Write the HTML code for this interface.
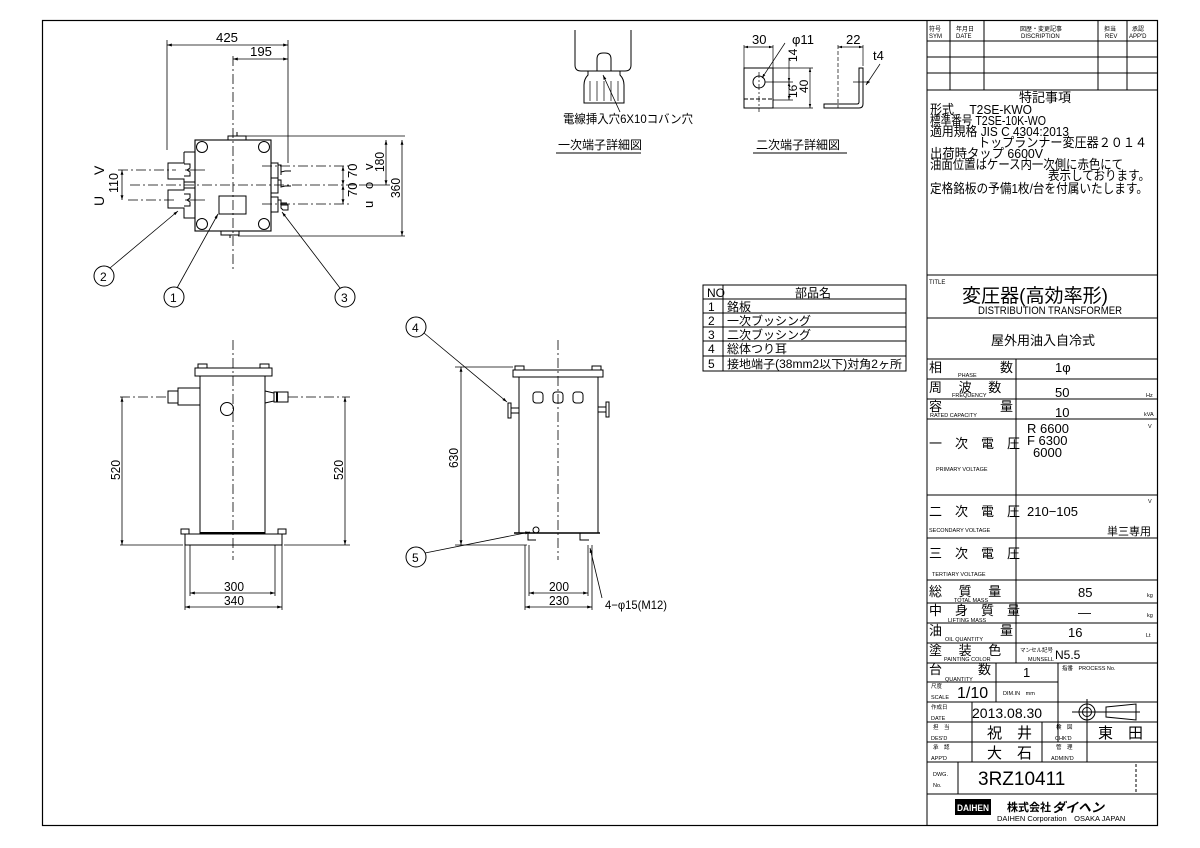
<!DOCTYPE html>
<html><head><meta charset="utf-8"><style>
html,body{margin:0;padding:0;background:#fff;}
svg{display:block;}
text{font-family:"Liberation Sans","Noto Sans CJK JP",sans-serif;fill:#000;}
.j{font-family:"Liberation Sans","Noto Sans CJK JP",sans-serif;}
</style></head><body>
<svg width="1200" height="848" viewBox="0 0 1200 848" xmlns="http://www.w3.org/2000/svg">
<defs>
<marker id="a" viewBox="0 0 10 10" refX="10" refY="5" markerWidth="6" markerHeight="6" orient="auto-start-reverse"><path d="M0,2L10,5L0,8z" fill="#000"/></marker>
</defs>
<g fill="none" stroke="#000" stroke-width="1">
<rect x="42.5" y="20.5" width="1115" height="805" stroke-width="1.2"/>
<line x1="927" y1="20" x2="927" y2="825"/>
<line x1="927" y1="41" x2="1158" y2="41"/>
<line x1="927" y1="57" x2="1158" y2="57"/>
<line x1="927" y1="73" x2="1158" y2="73"/>
<line x1="927" y1="90" x2="1158" y2="90"/>
<line x1="950" y1="20" x2="950" y2="90"/>
<line x1="984" y1="20" x2="984" y2="90"/>
<line x1="1098" y1="20" x2="1098" y2="90"/>
<line x1="1127" y1="20" x2="1127" y2="90"/>
<line x1="927" y1="275" x2="1158" y2="275"/>
<line x1="927" y1="318" x2="1158" y2="318"/>
<line x1="927" y1="359" x2="1158" y2="359"/>
<line x1="927" y1="379" x2="1158" y2="379"/>
<line x1="927" y1="399" x2="1158" y2="399"/>
<line x1="927" y1="419" x2="1158" y2="419"/>
<line x1="927" y1="495" x2="1158" y2="495"/>
<line x1="927" y1="538" x2="1158" y2="538"/>
<line x1="927" y1="580" x2="1158" y2="580"/>
<line x1="927" y1="603" x2="1158" y2="603"/>
<line x1="927" y1="623" x2="1158" y2="623"/>
<line x1="927" y1="643" x2="1158" y2="643"/>
<line x1="927" y1="663" x2="1158" y2="663"/>
<line x1="1016" y1="359" x2="1016" y2="663"/>
<line x1="927" y1="682" x2="1058" y2="682"/>
<line x1="927" y1="702" x2="1158" y2="702"/>
<line x1="927" y1="722" x2="1158" y2="722"/>
<line x1="927" y1="742" x2="1158" y2="742"/>
<line x1="927" y1="762" x2="1158" y2="762"/>
<line x1="927" y1="794" x2="1158" y2="794"/>
<line x1="996" y1="663" x2="996" y2="702"/>
<line x1="1058" y1="663" x2="1058" y2="742"/>
<line x1="972" y1="702" x2="972" y2="762"/>
<line x1="1042" y1="722" x2="1042" y2="762"/>
<line x1="1087" y1="722" x2="1087" y2="762"/>
<line x1="958" y1="762" x2="958" y2="794"/>
<line x1="1136" y1="764" x2="1136" y2="792" stroke-dasharray="3,2"/>
<circle cx="1087" cy="712" r="8"/><circle cx="1087" cy="712" r="4.5"/>
<line x1="1072" y1="712" x2="1102" y2="712"/><line x1="1087" y1="699" x2="1087" y2="725"/>
<path d="M1106,707L1136,704L1136,720L1106,717Z"/>
<line x1="1102" y1="712" x2="1140" y2="712"/>

<g stroke-width="0.8">
<line x1="167" y1="45" x2="288" y2="45" marker-start="url(#a)" marker-end="url(#a)"/>
<line x1="233" y1="59" x2="288" y2="59" marker-start="url(#a)" marker-end="url(#a)"/>
<line x1="167" y1="40" x2="167" y2="150"/>
<line x1="288" y1="40" x2="288" y2="163"/>
<line x1="233" y1="56" x2="233" y2="270" stroke-dasharray="10,3,2,3"/>
</g>
<rect x="195" y="140" width="76" height="91" stroke-width="1.1"/>
<circle cx="202" cy="147" r="5.5"/><circle cx="264" cy="147" r="5.5"/>
<circle cx="202" cy="224" r="5.5"/><circle cx="264" cy="224" r="5.5"/>
<rect x="219" y="196" width="27" height="18"/>
<rect x="228" y="136" width="18" height="4"/><line x1="237" y1="132" x2="237" y2="136"/>
<rect x="221" y="231" width="18" height="4"/><line x1="230" y1="235" x2="230" y2="238"/>
<path d="M184,152v11h-16v16h16v9h11"/>
<path d="M184,152h11"/>
<path d="M184,164h6v4l-3,2 3,2v4h-6"/>
<path d="M184,182h11M184,182v8h-16v18h16v10h11"/>
<path d="M184,194h6v4l-3,2 3,2v4h-6"/>
<path d="M271,163h7v15h-7"/><path d="M278,165h3v7l4,-1h6" /><path d="M281,167v8"/>
<path d="M271,178h7v15h-7"/><path d="M278,180h3v7l4,-1h6"/>
<path d="M271,197h7v15h-7"/><path d="M278,200h3v8l2,2h5v-5h-7"/><path d="M281,203h6"/>
<g stroke-width="0.8">
<line x1="118" y1="170" x2="176" y2="170" stroke-dasharray="10,3,2,3"/>
<line x1="128" y1="200" x2="176" y2="200" stroke-dasharray="10,3,2,3"/>
<line x1="185" y1="170" x2="205" y2="170"/>
<line x1="185" y1="200" x2="205" y2="200"/>
<line x1="130" y1="185" x2="360" y2="185" stroke-dasharray="10,3,2,3"/>
<line x1="122" y1="170" x2="122" y2="200" marker-start="url(#a)" marker-end="url(#a)"/>
<line x1="262" y1="166" x2="352" y2="166" stroke-dasharray="10,3,2,3"/>
<line x1="262" y1="204" x2="352" y2="204" stroke-dasharray="10,3,2,3"/>
<line x1="343" y1="166" x2="343" y2="185" marker-start="url(#a)" marker-end="url(#a)"/>
<line x1="343" y1="185" x2="343" y2="204" marker-start="url(#a)" marker-end="url(#a)"/>
<line x1="246" y1="136" x2="405" y2="136"/>
<line x1="238" y1="236" x2="405" y2="236"/>
<line x1="386" y1="140" x2="386" y2="185" marker-start="url(#a)" marker-end="url(#a)"/>
<line x1="360" y1="185" x2="390" y2="185"/>
<line x1="402" y1="140" x2="402" y2="236" marker-start="url(#a)" marker-end="url(#a)"/>
<line x1="110" y1="268" x2="178" y2="211" marker-end="url(#a)"/>
<line x1="177" y1="288" x2="218" y2="214" marker-end="url(#a)"/>
<line x1="340" y1="288" x2="282" y2="212" marker-end="url(#a)"/>
</g>
<circle cx="104" cy="276" r="10"/><circle cx="174" cy="297" r="10"/><circle cx="345" cy="297" r="10"/>
<circle cx="416" cy="327" r="10"/><circle cx="416" cy="557" r="10"/>

<g stroke-width="0.8">
<line x1="233" y1="340" x2="233" y2="560" stroke-dasharray="10,3,2,3"/>
<line x1="120" y1="397" x2="168" y2="397" stroke-dasharray="10,3,2,3"/>
<line x1="288" y1="397" x2="350" y2="397" stroke-dasharray="10,3,2,3"/>
<line x1="120" y1="545" x2="183" y2="545"/><line x1="284" y1="545" x2="350" y2="545"/>
<line x1="122" y1="397" x2="122" y2="545" marker-start="url(#a)" marker-end="url(#a)"/>
<line x1="345" y1="397" x2="345" y2="545" marker-start="url(#a)" marker-end="url(#a)"/>
<line x1="190" y1="545" x2="190" y2="596"/><line x1="275" y1="545" x2="275" y2="596"/>
<line x1="185" y1="545" x2="185" y2="610"/><line x1="282" y1="545" x2="282" y2="610"/>
<line x1="190" y1="593" x2="275" y2="593" marker-start="url(#a)" marker-end="url(#a)"/>
<line x1="185" y1="607" x2="282" y2="607" marker-start="url(#a)" marker-end="url(#a)"/>
</g>
<rect x="195" y="368" width="77" height="8"/>
<rect x="198" y="364" width="9" height="4"/><rect x="260" y="364" width="9" height="4"/>
<rect x="200" y="376" width="65" height="157"/>
<line x1="200" y1="533" x2="265" y2="533" stroke-width="2"/>
<rect x="185" y="534" width="97" height="11"/>
<rect x="181" y="529" width="8" height="5"/><rect x="278" y="529" width="8" height="5"/>
<circle cx="227" cy="409" r="6.5"/>
<rect x="168" y="391" width="10" height="12"/><rect x="178" y="388" width="22" height="17"/>
<path d="M265,391l9,2v8l-9,2"/><rect x="274" y="392" width="14" height="10"/><line x1="277" y1="392" x2="277" y2="402" stroke-width="2"/>

<g stroke-width="0.8">
<line x1="558" y1="340" x2="558" y2="560" stroke-dasharray="10,3,2,3"/>
<line x1="455" y1="367" x2="513" y2="367"/>
<line x1="455" y1="545" x2="527" y2="545"/>
<line x1="461" y1="367" x2="461" y2="545" marker-start="url(#a)" marker-end="url(#a)"/>
<line x1="529" y1="545" x2="529" y2="596"/><line x1="588" y1="545" x2="588" y2="596"/>
<line x1="525" y1="545" x2="525" y2="610"/><line x1="592" y1="545" x2="592" y2="610"/>
<line x1="529" y1="593" x2="588" y2="593" marker-start="url(#a)" marker-end="url(#a)"/>
<line x1="525" y1="607" x2="592" y2="607" marker-start="url(#a)" marker-end="url(#a)"/>
<line x1="424" y1="333" x2="507" y2="402" marker-end="url(#a)"/>
<line x1="425" y1="553" x2="530" y2="532" marker-end="url(#a)"/>
<line x1="602" y1="598" x2="590" y2="548" marker-end="url(#a)"/>
</g>
<rect x="513" y="370" width="90" height="7"/>
<rect x="515" y="366" width="9" height="4"/><rect x="592" y="366" width="9" height="4"/>
<rect x="519" y="377" width="79" height="156"/>
<line x1="514" y1="533" x2="600" y2="533" stroke-width="1.4"/>
<rect x="533" y="392" width="10" height="11" rx="3"/><rect x="553" y="392" width="10" height="11" rx="3"/><rect x="573" y="392" width="10" height="11" rx="3"/>
<rect x="508" y="403" width="3" height="15"/><rect x="511" y="408" width="8" height="5"/>
<rect x="606" y="402" width="3" height="15"/><rect x="598" y="407" width="8" height="5"/>
<circle cx="536" cy="530" r="3"/>
<path d="M528,533v7h8"/><path d="M580,533v7h9"/>

<path d="M575,30v35q0,6 6,6h44q6,0 6,-6v-35"/>
<path d="M597,71v-12q0,-6 6,-6h2q6,0 6,6v12"/>
<path d="M588,71h32v4q4,4 4,10v18h-40v-18q0,-6 4,-10z"/>
<path d="M590,81v20M597,81v20M604,81v20M611,81v20M618,81v20" stroke-width="0.7"/>
<line x1="603" y1="75" x2="620" y2="112" stroke-width="0.8" marker-start="url(#a)"/>
<line x1="556" y1="153" x2="641" y2="153"/>
<line x1="753" y1="153" x2="847" y2="153"/>
<rect x="744" y="68" width="29" height="40"/>
<circle cx="759" cy="82" r="6"/>
<line x1="744" y1="99" x2="773" y2="99" stroke-dasharray="4,2"/>
<g stroke-width="0.7">
<line x1="759" y1="72" x2="759" y2="112" stroke-dasharray="6,2,2,2"/>
<line x1="744" y1="45" x2="744" y2="68"/><line x1="773" y1="45" x2="773" y2="68"/>
<line x1="744" y1="47" x2="773" y2="47" marker-start="url(#a)" marker-end="url(#a)"/>
<line x1="762" y1="78" x2="785" y2="43" marker-start="url(#a)"/>
<line x1="773" y1="68" x2="813" y2="68"/><line x1="773" y1="108" x2="813" y2="108"/>
<line x1="765" y1="82" x2="793" y2="82"/><line x1="773" y1="100" x2="793" y2="100"/>
<line x1="789" y1="58" x2="789" y2="82" marker-end="url(#a)"/>
<line x1="789" y1="82" x2="789" y2="100" marker-start="url(#a)" marker-end="url(#a)"/>
<line x1="810" y1="68" x2="810" y2="108" marker-start="url(#a)" marker-end="url(#a)"/>
<line x1="838" y1="45" x2="838" y2="108" stroke-dasharray="4,2"/>
<line x1="863" y1="45" x2="863" y2="66"/>
<line x1="838" y1="47" x2="863" y2="47" marker-start="url(#a)" marker-end="url(#a)"/>
<line x1="853" y1="82" x2="870" y2="82"/>
<line x1="866" y1="85" x2="880" y2="64" marker-start="url(#a)"/>
</g>
<path d="M859,68v34q0,2 -2,2h-33v4h35q4,0 4,-4v-36z"/>

<rect x="703" y="285" width="203" height="86"/>
<line x1="703" y1="299" x2="906" y2="299"/>
<line x1="703" y1="313" x2="906" y2="313"/>
<line x1="703" y1="327" x2="906" y2="327"/>
<line x1="703" y1="341" x2="906" y2="341"/>
<line x1="703" y1="356" x2="906" y2="356"/>
<line x1="723" y1="285" x2="723" y2="371"/>
</g>

<g font-size="13">
<text x="216" y="42" textLength="22" lengthAdjust="spacingAndGlyphs">425</text>
<text x="250" y="56" textLength="22" lengthAdjust="spacingAndGlyphs">195</text>
<text transform="translate(104,175) rotate(-90)" font-size="14">V</text>
<text transform="translate(104,206) rotate(-90)" font-size="14">U</text>
<text transform="translate(118,193) rotate(-90)" textLength="20" lengthAdjust="spacingAndGlyphs">110</text>
<text transform="translate(357,178) rotate(-90)">70</text>
<text transform="translate(357,197) rotate(-90)">70</text>
<text transform="translate(373,170) rotate(-90)">v</text>
<text transform="translate(373,189) rotate(-90)">o</text>
<text transform="translate(373,208) rotate(-90)">u</text>
<text transform="translate(384,172) rotate(-90)" textLength="20" lengthAdjust="spacingAndGlyphs">180</text>
<text transform="translate(400,198) rotate(-90)" textLength="20" lengthAdjust="spacingAndGlyphs">360</text>
<text x="100" y="281" font-size="12">2</text>
<text x="170" y="302" font-size="12">1</text>
<text x="341" y="302" font-size="12">3</text>
<text x="412" y="332" font-size="12">4</text>
<text x="412" y="562" font-size="12">5</text>
<text transform="translate(120,480) rotate(-90)" textLength="20" lengthAdjust="spacingAndGlyphs">520</text>
<text transform="translate(343,480) rotate(-90)" textLength="20" lengthAdjust="spacingAndGlyphs">520</text>
<text transform="translate(458,468) rotate(-90)" textLength="20" lengthAdjust="spacingAndGlyphs">630</text>
<text x="224" y="591" textLength="20" lengthAdjust="spacingAndGlyphs">300</text>
<text x="224" y="605" textLength="20" lengthAdjust="spacingAndGlyphs">340</text>
<text x="549" y="591" textLength="20" lengthAdjust="spacingAndGlyphs">200</text>
<text x="549" y="605" textLength="20" lengthAdjust="spacingAndGlyphs">230</text>
<text x="605" y="609" font-size="12" textLength="62" lengthAdjust="spacingAndGlyphs">4−φ15(M12)</text>
<text x="563" y="123" class="j" font-size="12" textLength="130" lengthAdjust="spacingAndGlyphs">電線挿入穴6X10コバン穴</text>
<text x="558" y="149" class="j" font-size="12">一次端子詳細図</text>
<text x="756" y="149" class="j" font-size="12">二次端子詳細図</text>
<text x="752" y="44">30</text>
<text x="792" y="44">φ11</text>
<text x="846" y="44">22</text>
<text x="873" y="60">t4</text>
<text transform="translate(797,62) rotate(-90)" font-size="12">14</text>
<text transform="translate(797,98) rotate(-90)" font-size="12">16</text>
<text transform="translate(808,93) rotate(-90)" font-size="12">40</text>
</g>
<g font-size="12" class="j">
<text x="707" y="297">NO</text>
<text x="795" y="297">部品名</text>
<text x="708" y="311">1</text><text x="727" y="311">銘板</text>
<text x="708" y="325">2</text><text x="727" y="325">一次ブッシング</text>
<text x="708" y="339">3</text><text x="727" y="339">二次ブッシング</text>
<text x="708" y="353">4</text><text x="727" y="353">総体つり耳</text>
<text x="708" y="368">5</text><text x="727" y="368" font-size="11.5" textLength="175" lengthAdjust="spacingAndGlyphs">接地端子(38mm2以下)対角2ヶ所</text>
</g>
<g class="j" font-size="6">
<text x="929" y="31">符号</text><text x="929" y="38">SYM</text>
<text x="956" y="31">年月日</text><text x="956" y="38">DATE</text>
<text x="1020" y="31">図歴・変更記事</text><text x="1021" y="38">DISCRIPTION</text>
<text x="1104" y="31">担当</text><text x="1105" y="38">REV</text>
<text x="1132" y="31">承認</text><text x="1129" y="38">APP'D</text>
</g>
<g class="j" font-size="13">
<text x="1019" y="102">特記事項</text>
<text x="930" y="114" textLength="102" lengthAdjust="spacingAndGlyphs">形式　 T2SE-KWO</text>
<text x="930" y="125" textLength="116" lengthAdjust="spacingAndGlyphs">標準番号 T2SE-10K-WO</text>
<text x="930" y="136" textLength="139" lengthAdjust="spacingAndGlyphs">適用規格 JIS C 4304:2013</text>
<text x="978" y="147" textLength="169" lengthAdjust="spacingAndGlyphs">トップランナー変圧器２０１４</text>
<text x="930" y="158" textLength="113" lengthAdjust="spacingAndGlyphs">出荷時タップ 6600V</text>
<text x="930" y="169" textLength="193" lengthAdjust="spacingAndGlyphs">油面位置はケース内一次側に赤色にて</text>
<text x="1048" y="180" textLength="102" lengthAdjust="spacingAndGlyphs">表示しております。</text>
<text x="930" y="193" textLength="218" lengthAdjust="spacingAndGlyphs">定格銘板の予備1枚/台を付属いたします。</text>
</g>
<text x="929" y="284" font-size="6">TITLE</text>
<text x="962" y="302" class="j" font-size="19" textLength="146" lengthAdjust="spacingAndGlyphs">変圧器(高効率形)</text>
<text x="978" y="314" font-size="11" textLength="144" lengthAdjust="spacingAndGlyphs">DISTRIBUTION TRANSFORMER</text>
<text x="991" y="345" class="j" font-size="13">屋外用油入自冷式</text>
<g class="j" font-size="13">
<text x="929" y="372">相</text><text x="1000" y="372">数</text>
<text x="929" y="392">周　 波　 数</text>
<text x="929" y="411">容</text><text x="1000" y="411">量</text>
<text x="929" y="448">一　次　電　圧</text>
<text x="929" y="516">二　次　電　圧</text>
<text x="929" y="558">三　次　電　圧</text>
<text x="929" y="596">総　 質　 量</text>
<text x="929" y="615">中　身　質　量</text>
<text x="929" y="635">油</text><text x="1000" y="635">量</text>
<text x="929" y="655">塗　 装　 色</text>
<text x="929" y="674">台</text><text x="978" y="674">数</text>
<text x="1055" y="372">1φ</text>
<text x="1055" y="397">50</text>
<text x="1055" y="417">10</text>
<text x="1027" y="433">R 6600</text>
<text x="1027" y="445">F 6300</text>
<text x="1033" y="457">6000</text>
<text x="1027" y="516">210−105</text>
<text x="1107" y="535" font-size="11">単三専用</text>
<text x="1078" y="597">85</text>
<text x="1078" y="617">—</text>
<text x="1068" y="637">16</text>
<text x="1055" y="659" font-size="12">N5.5</text>
<text x="1023" y="677">1</text>
<text x="957" y="698" font-size="16">1/10</text>
<text x="972" y="718" font-size="14">2013.08.30</text>
<text x="987" y="738" font-size="15">祝　井</text>
<text x="987" y="758" font-size="15">大　石</text>
<text x="1098" y="738" font-size="15">東　田</text>
<text x="978" y="785" font-size="19">3RZ10411</text>
</g>
<g font-size="5.5" class="j">
<text x="958" y="377">PHASE</text>
<text x="952" y="397">FREQUENCY</text>
<text x="930" y="417">RATED CAPACITY</text>
<text x="936" y="471">PRIMARY VOLTAGE</text>
<text x="929" y="532">SECONDARY VOLTAGE</text>
<text x="932" y="576">TERTIARY VOLTAGE</text>
<text x="954" y="602">TOTAL MASS</text>
<text x="948" y="622">LIFTING MASS</text>
<text x="945" y="641">OIL QUANTITY</text>
<text x="944" y="661">PAINTING COLOR</text>
<text x="945" y="681">QUANTITY</text>
<text x="1148" y="428">V</text><text x="1148" y="503">V</text>
<text x="1146" y="397">Hz</text><text x="1144" y="416">kVA</text>
<text x="1147" y="597">kg</text><text x="1147" y="617">kg</text><text x="1146" y="637">Lt</text>
<text x="1020" y="652">マンセル記号</text><text x="1028" y="661">MUNSELL</text>
<text x="1062" y="670">指番　PROCESS No.</text>
<text x="931" y="688">尺度</text><text x="931" y="699">SCALE</text>
<text x="1003" y="695">DIM.IN　mm</text>
<text x="931" y="709">作成日</text><text x="931" y="720">DATE</text>
<text x="933" y="729">担　当</text><text x="931" y="740">DES'D</text>
<text x="933" y="749">承　認</text><text x="931" y="760">APP'D</text>
<text x="1056" y="729">検　図</text><text x="1055" y="740">CHK'D</text>
<text x="1056" y="749">管　理</text><text x="1051" y="760">ADMIN'D</text>
<text x="933" y="776">DWG.</text><text x="933" y="787">No.</text>
</g>
<rect x="955" y="799" width="36" height="16" fill="#000"/>
<text x="957" y="811" font-size="9" font-weight="bold" style="fill:#fff" textLength="32" lengthAdjust="spacingAndGlyphs">DAIHEN</text>
<text x="1007" y="811" class="j" font-size="11" font-weight="bold">株式会社</text>
<text x="1052" y="812" class="j" font-size="13" font-weight="bold" font-style="italic">ダイヘン</text>
<text x="997" y="821" font-size="7.5">DAIHEN Corporation　OSAKA JAPAN</text>
</svg>
</body></html>
